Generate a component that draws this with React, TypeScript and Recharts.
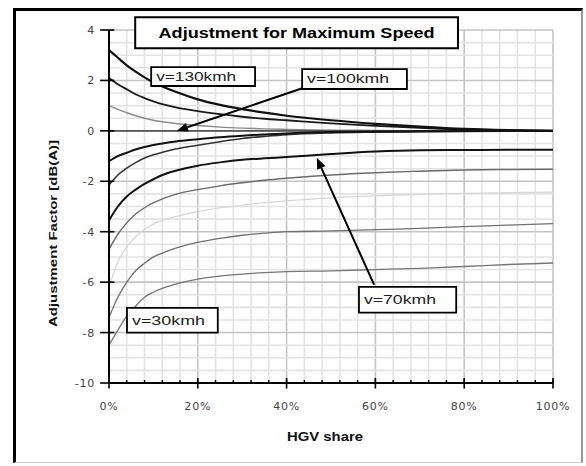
import React from 'react';
import { LineChart, Line, XAxis, YAxis, ReferenceLine, ReferenceArea, Label } from 'recharts';

// HGV share (%) at which each adjustment curve is sampled
const hgvShare = [0, 2, 4, 6, 8, 10, 12, 15, 20, 25, 30, 35, 40, 50, 60, 70, 80, 90, 100];

// Adjustment factor [dB(A)] per speed curve
const curveA = [3.2, 2.9, 2.6, 2.35, 2.12, 1.92, 1.76, 1.55, 1.25, 1.03, 0.86, 0.72, 0.6, 0.42, 0.28, 0.17, 0.08, 0.03, 0];
const curveB = [2.1, 1.85, 1.65, 1.45, 1.3, 1.17, 1.06, 0.93, 0.78, 0.66, 0.56, 0.48, 0.42, 0.3, 0.2, 0.12, 0.05, 0.02, 0];
const curveC = [1.0, 0.85, 0.72, 0.6, 0.5, 0.42, 0.36, 0.29, 0.21, 0.15, 0.11, 0.08, 0.06, 0.03, 0.02, 0.01, 0, 0, 0];
const curveD = [0, 0, 0, 0, 0, 0, 0, 0, 0, 0, 0, 0, 0, 0, 0, 0, 0, 0, 0];
const curveE = [-1.2, -1.0, -0.87, -0.74, -0.64, -0.56, -0.5, -0.42, -0.33, -0.25, -0.19, -0.14, -0.1, -0.05, -0.03, -0.02, -0.01, 0, 0];
const curveF = [-2.15, -1.75, -1.48, -1.26, -1.08, -0.95, -0.85, -0.72, -0.57, -0.43, -0.3, -0.22, -0.15, -0.08, -0.05, -0.03, -0.02, -0.01, 0];
const curveG = [-3.55, -3.0, -2.6, -2.33, -2.1, -1.92, -1.75, -1.58, -1.38, -1.25, -1.15, -1.09, -1.04, -0.92, -0.82, -0.77, -0.76, -0.75, -0.75];
const curveH = [-4.7, -4.1, -3.65, -3.3, -3.05, -2.85, -2.7, -2.52, -2.33, -2.18, -2.06, -1.96, -1.88, -1.75, -1.66, -1.6, -1.55, -1.53, -1.52];
const curveI = [-6.2, -5.2, -4.6, -4.2, -3.9, -3.7, -3.55, -3.4, -3.2, -3.05, -2.95, -2.85, -2.78, -2.66, -2.58, -2.52, -2.48, -2.45, -2.43];
const curveJ = [-7.4, -6.6, -6.0, -5.55, -5.25, -5.0, -4.85, -4.65, -4.42, -4.26, -4.14, -4.06, -4.0, -3.97, -3.92, -3.87, -3.8, -3.74, -3.68];
const curveK = [-8.5, -7.9, -7.35, -6.95, -6.6, -6.4, -6.25, -6.08, -5.88, -5.76, -5.68, -5.62, -5.58, -5.55, -5.5, -5.45, -5.38, -5.3, -5.24];

// Axis ticks
const xTicks = [0, 20, 40, 60, 80, 100];
const yTicks = [4, 2, 0, -2, -4, -6, -8, -10];
const xMinor = Array.from({ length: 26 }, (_, i) => i * 4);
const yMinor = Array.from({ length: 29 }, (_, i) => -10 + i * 0.5);

// Boxed notes, placed in chart units (HGV share %, dB(A))
const notes = [
  { text: 'Adjustment for Maximum Speed', x1: 5.9, x2: 78.6, y1: 3.28, y2: 4.51, title: true },
  { text: 'v=130kmh', x1: 9.5, x2: 32.9, y1: 1.78, y2: 2.53, title: false },
  { text: 'v=100kmh', x1: 43.5, x2: 67.1, y1: 1.66, y2: 2.45, title: false },
  { text: 'v=70kmh', x1: 56.3, x2: 78.2, y1: -7.21, y2: -6.19, title: false },
  { text: 'v=30kmh', x1: 4.05, x2: 24.5, y1: -8.0, y2: -7.02, title: false },
];

// Pointer arrows from a note to its curve
const pointers = [
  { fromX: 43.7, fromY: 1.7, toX: 15.3, toY: 0 },
  { fromX: 59.7, fromY: -6.1, toX: 46.8, toY: -1.07 },
];

const rows = hgvShare.map((x, i) => ({
  x,
  a: curveA[i], b: curveB[i], c: curveC[i], d: curveD[i], e: curveE[i], f: curveF[i],
  g: curveG[i], h: curveH[i], i: curveI[i], j: curveJ[i], k: curveK[i],
}));

const seriesLook = [
  { key: 'i', stroke: '#d6d6d6', width: 1.2 },
  { key: 'k', stroke: '#767676', width: 1.3 },
  { key: 'j', stroke: '#707070', width: 1.3 },
  { key: 'h', stroke: '#6a6a6a', width: 1.4 },
  { key: 'c', stroke: '#8a8a8a', width: 1.4 },
  { key: 'd', stroke: '#555555', width: 1.6 },
  { key: 'f', stroke: '#333333', width: 1.6 },
  { key: 'g', stroke: '#111111', width: 2 },
  { key: 'e', stroke: '#111111', width: 2 },
  { key: 'b', stroke: '#1a1a1a', width: 1.8 },
  { key: 'a', stroke: '#111111', width: 2.2 },
];

const noteTextWidth: Record<string, number> = {
  'Adjustment for Maximum Speed': 276,
  'v=130kmh': 80,
  'v=100kmh': 82,
  'v=70kmh': 72,
  'v=30kmh': 73,
};

const FONT = '"Liberation Sans", Arial, sans-serif';

const XTick = (props: any) => {
  const { x, y, payload } = props;
  return (
    <text x={x} y={y + 27} textAnchor="middle" fontFamily='"DejaVu Sans", sans-serif' fontSize={11} letterSpacing={0.8} fill="#444">
      {`${payload.value}%`}
    </text>
  );
};

const YTick = (props: any) => {
  const { x, y, payload } = props;
  return (
    <text x={x - 14} y={y + 4} textAnchor="end" fontFamily='"DejaVu Sans", sans-serif' fontSize={11} letterSpacing={0.8} fill="#444">
      {String(payload.value)}
    </text>
  );
};

const Arrow = (p: any) => {
  const { x1, y1, x2, y2 } = p;
  const ang = Math.atan2(y2 - y1, x2 - x1);
  const len = 11;
  const half = 4.5;
  const bx = x2 - len * Math.cos(ang);
  const by = y2 - len * Math.sin(ang);
  const px = -Math.sin(ang) * half;
  const py = Math.cos(ang) * half;
  return (
    <g>
      <line x1={x1} y1={y1} x2={bx} y2={by} stroke="#000" strokeWidth={2} />
      <polygon points={`${x2},${y2} ${bx + px},${by + py} ${bx - px},${by - py}`} fill="#000" />
    </g>
  );
};

const NoteText = (props: any) => {
  const { viewBox, value, title } = props;
  const { x, y, width, height } = viewBox;
  const size = title ? 14 : 12;
  const tl = noteTextWidth[value];
  if (title) {
    return (
      <text x={x + width / 2} y={y + height / 2 + size * 0.36} textAnchor="middle" fontFamily={FONT} fontWeight="bold" fontSize={size} fill="#000" textLength={tl} lengthAdjust="spacingAndGlyphs">
        {value}
      </text>
    );
  }
  return (
    <text x={x + 5} y={y + height / 2 + size * 0.36} textAnchor="start" fontFamily={FONT} fontSize={size} fill="#222" textLength={tl} lengthAdjust="spacingAndGlyphs">
      {value}
    </text>
  );
};

const XTitle = (props: any) => {
  const { viewBox } = props;
  return (
    <text x={viewBox.x + viewBox.width / 2 - 6} y={viewBox.y + 58} textAnchor="middle" fontFamily={FONT} fontWeight="bold" fontSize={12} fill="#111" textLength={76} lengthAdjust="spacingAndGlyphs">
      HGV share
    </text>
  );
};

const YTitle = (props: any) => {
  const { viewBox } = props;
  const cx = viewBox.x + 8;
  const cy = viewBox.y + viewBox.height / 2 + 27;
  return (
    <text x={cx} y={cy} transform={`rotate(-90 ${cx} ${cy})`} textAnchor="middle" fontFamily={FONT} fontWeight="bold" fontSize={11} fill="#111" textLength={187} lengthAdjust="spacingAndGlyphs">
      Adjustment Factor [dB(A)]
    </text>
  );
};

export default function App() {
  return (
    <div style={{ position: 'absolute', left: 0, top: 0, width: 586, height: 466, background: '#fff' }}>
      <div
        style={{
          position: 'absolute', left: 13, top: 8, width: 570, height: 455, boxSizing: 'border-box',
          borderLeft: '3px solid #000', borderTop: '3px solid #000', borderRight: '2px solid #9a9a9a', borderBottom: '1px solid #cfcfcf',
        }}
      />
      <div style={{ position: 'absolute', left: 0, top: 0 }}>
        <LineChart width={586} height={466} data={rows} margin={{ top: 30, right: 33, bottom: 53, left: 49 }}>
          {xMinor.map((v) => (
            <ReferenceLine key={`xm${v}`} x={v} stroke={v % 20 === 0 ? '#c4c4c4' : '#e3e3e3'} strokeWidth={1.6} zIndex={-100} />
          ))}
          {yMinor.map((v) => (
            <ReferenceLine key={`ym${v}`} y={v} stroke={v % 2 === 0 ? '#c4c4c4' : '#e3e3e3'} strokeWidth={1.6} zIndex={-100} />
          ))}
          <XAxis
            dataKey="x" type="number" domain={[0, 100]} ticks={xTicks} interval={0}
            tickSize={0} tickMargin={0} tickLine={false} tick={<XTick />} height={30}
            axisLine={{ stroke: '#000', strokeWidth: 2 }}
          >
            <Label content={<XTitle />} />
          </XAxis>
          <YAxis
            type="number" domain={[-10, 4]} ticks={yTicks} interval={0}
            tickSize={0} tickMargin={0} tickLine={false} tick={<YTick />} width={60}
            axisLine={{ stroke: '#000', strokeWidth: 2 }}
          >
            <Label content={<YTitle />} />
          </YAxis>
          {seriesLook.map((s) => (
            <Line key={s.key} dataKey={s.key} type="monotone" stroke={s.stroke} strokeWidth={s.width} dot={false} isAnimationActive={false} />
          ))}
          {xTicks.map((v) => (
            <ReferenceLine key={`xt${v}`} segment={[{ x: v, y: -10.22 }, { x: v, y: -9.8 }]} stroke="#000" strokeWidth={1.6} ifOverflow="visible" zIndex={550} />
          ))}
          {xMinor.map((v) => (
            <ReferenceLine key={`xn${v}`} segment={[{ x: v, y: -10 }, { x: v, y: -9.88 }]} stroke="#000" strokeWidth={1.4} ifOverflow="visible" zIndex={550} />
          ))}
          {yTicks.map((v) => (
            <ReferenceLine key={`yt${v}`} segment={[{ x: -2, y: v }, { x: 1.2, y: v }]} stroke="#000" strokeWidth={1.6} ifOverflow="visible" zIndex={550} />
          ))}
          {notes.map((n) => (
            <ReferenceArea
              key={n.text} x1={n.x1} x2={n.x2} y1={n.y1} y2={n.y2}
              fill="#fff" fillOpacity={1} stroke="#000" strokeWidth={n.title ? 2 : 1.8}
              ifOverflow="visible" zIndex={700}
            >
              <Label content={<NoteText title={n.title} />} value={n.text} />
            </ReferenceArea>
          ))}
          {pointers.map((p, i) => (
            <ReferenceLine
              key={`p${i}`} segment={[{ x: p.fromX, y: p.fromY }, { x: p.toX, y: p.toY }]}
              shape={<Arrow />} ifOverflow="visible" zIndex={710}
            />
          ))}
        </LineChart>
      </div>
    </div>
  );
}
